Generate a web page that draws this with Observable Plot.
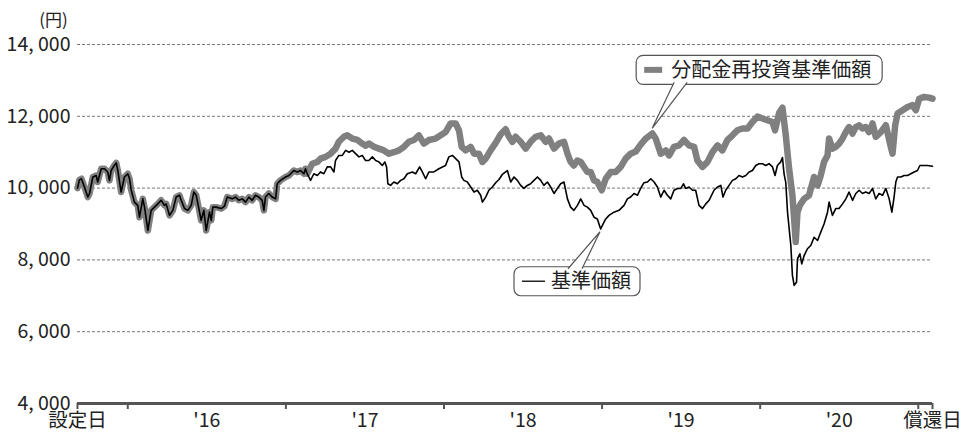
<!DOCTYPE html>
<html><head><meta charset="utf-8">
<script src="https://cdn.jsdelivr.net/npm/d3@7"></script>
<script src="https://cdn.jsdelivr.net/npm/@observablehq/plot@0.6"></script>
<style>
body{margin:0;background:#fff;}
#chart svg{display:block;}
</style>
</head><body><div id="chart"></div>
<script>
// ---- data (x in decimal years, values in yen) ----
// period where both series coincide
const commonX = [2015.682,2015.694,2015.707,2015.726,2015.747,2015.758,2015.779,2015.800,2015.810,2015.832,2015.853,2015.873,2015.884,2015.895,2015.910,2015.927,2015.937,2015.958,2015.979,
2016.000,2016.011,2016.022,2016.042,2016.063,2016.074,2016.095,2016.106,2016.127,2016.148,2016.169,2016.190,2016.211,2016.232,2016.243,2016.264,2016.285,2016.306,2016.327,2016.338,2016.359,2016.380,2016.401,2016.418,2016.433,2016.454,2016.464,2016.481,2016.496,2016.517,2016.528,2016.538,2016.559,2016.591,2016.612,2016.629,2016.661,2016.682,2016.702,2016.724,2016.745,2016.766,2016.787,2016.808,2016.829,2016.850,2016.861,2016.871,2016.892,2016.914,2016.935,2016.945,2016.966,2016.998,
2017.019,2017.050,2017.072,2017.093,2017.114,2017.124,2017.135];
const commonV = [10000,10230,10260,10030,9750,9850,10310,10350,10170,10540,10540,10450,10215,10490,10600,10700,10490,9890,10310,
10400,10260,9940,9610,9520,9190,9700,9470,8820,9380,9470,9560,9660,9520,9560,9240,9380,9750,9800,9660,9430,9380,9520,9890,9800,9330,9100,9380,8820,9330,9100,9470,9470,9430,9500,9750,9700,9750,9660,9700,9610,9750,9660,9800,9750,9660,9380,9750,9850,9750,9700,10120,10215,10310,
10350,10490,10450,10490,10400,10540,10400];

// 基準価額 after the series split
const navX = [2017.156,2017.177,2017.199,2017.219,2017.240,2017.262,2017.283,2017.304,2017.314,2017.335,2017.357,2017.378,2017.399,2017.420,2017.441,2017.462,2017.483,2017.504,2017.525,2017.547,2017.568,2017.588,2017.610,2017.626,2017.637,2017.645,2017.662,2017.683,2017.705,2017.726,2017.747,2017.768,2017.800,2017.821,2017.846,2017.863,2017.884,2017.905,2017.936,2017.968,2017.990,
2018.010,2018.031,2018.053,2018.074,2018.095,2018.112,2018.126,2018.148,2018.169,2018.190,2018.211,2018.232,2018.243,2018.264,2018.284,2018.306,2018.327,2018.348,2018.369,2018.390,2018.401,2018.422,2018.443,2018.464,2018.485,2018.506,2018.527,2018.548,2018.569,2018.591,2018.612,2018.632,2018.654,2018.675,2018.696,2018.717,2018.738,2018.759,2018.781,2018.801,2018.822,2018.844,2018.865,2018.886,2018.907,2018.928,2018.949,2018.970,2018.991,
2019.002,2019.023,2019.044,2019.075,2019.107,2019.139,2019.160,2019.181,2019.202,2019.224,2019.244,2019.265,2019.287,2019.308,2019.329,2019.350,2019.371,2019.392,2019.413,2019.434,2019.455,2019.477,2019.498,2019.515,2019.529,2019.550,2019.572,2019.592,2019.613,2019.635,2019.656,2019.677,2019.708,2019.730,2019.751,2019.765,2019.782,2019.803,2019.825,2019.846,2019.866,2019.888,2019.909,2019.930,2019.951,2019.972,2019.993,
2020.015,2020.035,2020.056,2020.078,2020.094,2020.109,2020.130,2020.141,2020.151,2020.162,2020.173,2020.194,2020.204,2020.215,2020.230,2020.236,2020.251,2020.263,2020.278,2020.299,2020.320,2020.341,2020.363,2020.383,2020.404,2020.426,2020.436,2020.457,2020.478,2020.499,2020.521,2020.542,2020.562,2020.584,2020.605,2020.626,2020.647,2020.668,2020.689,2020.711,2020.731,2020.752,2020.774,2020.795,2020.816,2020.833,2020.847,2020.858,2020.869,2020.890,2020.911,2020.932,2020.953,2020.974,2020.995,
2021.010,2021.027,2021.059,2021.090];
const navV = [10215,10400,10350,10450,10400,10590,10590,10450,10770,10910,10910,11050,11000,11050,10960,10870,10910,10770,10770,10870,10770,10730,10630,10730,10590,10120,10075,10170,10120,10215,10260,10400,10450,10400,10590,10450,10260,10450,10450,10540,10590,
10630,10870,10910,10820,10730,10310,10215,10170,10030,9890,9940,9800,9610,9750,9940,10030,10150,10240,10380,10450,10490,10170,10310,10215,10075,9990,10075,10120,10215,10310,10215,10075,10170,10030,9850,9990,10120,10170,9700,9470,9380,9520,9700,9520,9470,9380,9190,9140,8860,
8960,9140,9240,9330,9380,9520,9700,9750,9850,9800,9990,10150,10170,10260,10170,10030,9750,9940,9800,9700,9940,9990,9990,10120,9990,10030,9940,9940,9520,9430,9560,9660,9940,10030,10075,9750,9940,10075,10215,10260,10350,10310,10350,10450,10490,10630,10680,
10680,10630,10680,10590,10350,10630,10730,10850,10400,10150,9330,8400,7570,7290,7380,8030,8170,7890,8120,8310,8400,8630,8540,8770,9000,9330,9610,9240,9430,9430,9560,9700,9890,9660,9850,9940,9850,9890,9850,9990,9700,9850,9800,9990,9700,9330,9750,10170,10310,10310,10350,10350,10400,10450,10490,
10630,10630,10630,10610];

// 分配金再投資基準価額 after the series split
const reinvX = [2017.145,2017.167,2017.199,2017.219,2017.251,2017.283,2017.314,2017.335,2017.367,2017.388,2017.420,2017.452,2017.483,2017.504,2017.525,2017.557,2017.588,2017.620,2017.652,2017.683,2017.715,2017.747,2017.778,2017.810,2017.841,2017.873,2017.905,2017.947,2017.979,
2018.010,2018.042,2018.074,2018.095,2018.112,2018.137,2018.169,2018.190,2018.221,2018.243,2018.264,2018.295,2018.327,2018.359,2018.390,2018.411,2018.433,2018.453,2018.485,2018.517,2018.548,2018.580,2018.612,2018.643,2018.664,2018.696,2018.727,2018.759,2018.781,2018.801,2018.822,2018.844,2018.865,2018.886,2018.907,2018.928,2018.949,2018.970,2018.998,
2019.023,2019.055,2019.086,2019.118,2019.149,2019.181,2019.213,2019.244,2019.276,2019.318,2019.339,2019.371,2019.403,2019.424,2019.455,2019.487,2019.518,2019.550,2019.582,2019.603,2019.635,2019.667,2019.698,2019.730,2019.761,2019.793,2019.825,2019.856,2019.888,2019.920,2019.951,2019.983,
2020.015,2020.046,2020.078,2020.094,2020.120,2020.141,2020.162,2020.183,2020.204,2020.225,2020.236,2020.251,2020.278,2020.309,2020.341,2020.363,2020.383,2020.404,2020.426,2020.436,2020.457,2020.478,2020.499,2020.521,2020.542,2020.562,2020.584,2020.605,2020.626,2020.647,2020.668,2020.689,2020.711,2020.731,2020.763,2020.795,2020.826,2020.837,2020.854,2020.869,2020.901,2020.932,2020.964,2020.985,
2021.006,2021.037,2021.069,2021.090];
const reinvV = [10490,10680,10730,10820,10870,10960,11100,11290,11430,11470,11380,11340,11240,11180,11240,11150,11100,11050,10960,11000,11050,11150,11290,11340,11470,11240,11340,11380,11470,
11560,11800,11800,11610,11150,11050,11150,10960,10960,10730,10820,11050,11260,11500,11640,11430,11290,11430,11290,11100,11290,11430,11470,11290,11380,11100,11240,11290,10960,10730,10630,10770,10730,10590,10450,10450,10215,10170,9940,
10260,10450,10450,10590,10820,10960,11020,11210,11380,11520,11380,10960,11050,10910,11150,11190,11340,11190,11150,10770,10590,10730,11000,11190,11050,11340,11470,11610,11660,11660,11840,11990,
11940,11890,11840,11610,12100,12240,11470,10540,9800,8500,9330,9520,9700,9800,10310,10075,10350,10730,10910,11380,11100,11150,11240,11380,11560,11700,11520,11700,11750,11660,11700,11560,11800,11430,11560,11750,11150,10960,11750,12080,12170,12260,12310,12170,
12490,12540,12520,12490];

const seriesNames = ["分配金再投資基準価額", "基準価額"];
const yUnit = "(円)";
const yTicks = [4000, 6000, 8000, 10000, 12000, 14000];
const yTickLabels = ["4, 000", "6, 000", "8, 000", "10, 000", "12, 000", "14, 000"];
const xTickMarks = [2015.682, 2016, 2017, 2018, 2019, 2020, 2021, 2021.090];
const xLabelPos = [2015.682, 2016.5, 2017.5, 2018.5, 2019.5, 2020.5, 2021.090];
const xLabels = ["設定日", "'16", "'17", "'18", "'19", "'20", "償還日"];

// ---- build tables ----
const reinvData = commonX.map((x, i) => ({x, v: commonV[i]})).concat(reinvX.map((x, i) => ({x, v: reinvV[i]})));
const navData = commonX.map((x, i) => ({x, v: commonV[i]})).concat(navX.map((x, i) => ({x, v: navV[i]})));

const FONT = "'Noto Sans CJK JP', 'Noto Sans', sans-serif";
const GRAY = "#808080";
const INK = "#222";

// callouts anchored in data space, box offsets in px
const callouts = [
  {name: seriesNames[0], ax: 2019.32, av: 11650, box: [-16, -73, 230, -44], base: [22, 35], marker: "thick"},
  {name: seriesNames[1], ax: 2018.99, av: 8770, box: [-86, 35, 40, 64], base: [-32, -18], marker: "thin"}
];

function drawCallouts(index, scales) {
  const g = d3.create("svg:g").attr("font-family", FONT).attr("text-anchor", "start");
  for (const c of callouts) {
    const px = scales.x(c.ax), py = scales.y(c.av);
    const [x0, y0, x1, y1] = c.box;
    g.append("rect")
      .attr("x", px + x0).attr("y", py + y0)
      .attr("width", x1 - x0).attr("height", y1 - y0)
      .attr("rx", 7).attr("ry", 7)
      .attr("fill", "#fff").attr("stroke", "#555").attr("stroke-width", 1.2);
    const above = y1 < 0;
    const edge = above ? py + y1 : py + y0;
    const inset = above ? -2 : 2;
    g.append("path")
      .attr("d", `M${px + c.base[0]},${edge + inset}L${px},${py}L${px + c.base[1]},${edge + inset}`)
      .attr("fill", "#fff").attr("stroke", "#555").attr("stroke-width", 1.2);
    const cy = py + (y0 + y1) / 2;
    const mx = px + x0 + 8;
    if (c.marker === "thick") {
      g.append("line").attr("x1", mx).attr("x2", mx + 18).attr("y1", cy).attr("y2", cy)
        .attr("stroke", GRAY).attr("stroke-width", 6);
    } else {
      g.append("line").attr("x1", mx).attr("x2", mx + 23).attr("y1", cy).attr("y2", cy)
        .attr("stroke", INK).attr("stroke-width", 1.5);
    }
    g.append("text")
      .attr("x", mx + (c.marker === "thick" ? 27 : 29)).attr("y", cy)
      .attr("dy", "0.36em")
      .attr("text-anchor", "start")
      .attr("font-size", 20).attr("fill", INK)
      .text(c.name);
  }
  return g.node();
}

const chart = Plot.plot({
  width: 962,
  height: 432,
  marginLeft: 77,
  marginRight: 30,
  marginTop: 44,
  marginBottom: 29,
  style: {fontFamily: FONT, fontSize: "19px", color: INK, background: "#fff", overflow: "visible"},
  x: {type: "linear", domain: [2015.682, 2021.090]},
  y: {domain: [4000, 14000]},
  marks: [
    Plot.gridY({ticks: yTicks.slice(1), stroke: "#777", strokeOpacity: 1, strokeWidth: 1, strokeDasharray: "3,2"}),
    Plot.line(reinvData, {x: "x", y: "v", stroke: GRAY, strokeWidth: 6.5, strokeLinejoin: "round", strokeLinecap: "round"}),
    Plot.line(navData, {x: "x", y: "v", stroke: "#000", strokeWidth: 1.6, strokeLinejoin: "round"}),
    Plot.ruleY([4000], {stroke: "#555", strokeWidth: 3}),
    Plot.axisX({ticks: xTickMarks, tickSize: 6, tickFormat: () => "", stroke: "#555", strokeWidth: 2, label: null}),
    Plot.axisX({ticks: xLabelPos, tickSize: 0, tickPadding: 10, tickFormat: (d) => xLabels[xLabelPos.indexOf(d)], fontSize: 19.5, label: null}),
    Plot.axisY({ticks: yTicks, tickSize: 0, tickPadding: 7, tickFormat: (d) => yTickLabels[yTicks.indexOf(d)], fontSize: 19.5, label: null}),
    Plot.text([yUnit], {frameAnchor: "top-left", dx: -24, dy: -31, text: (d) => d, fontSize: 17, textAnchor: "middle", fill: INK}),
    drawCallouts
  ]
});
document.getElementById("chart").appendChild(chart);
</script>
</body></html>
